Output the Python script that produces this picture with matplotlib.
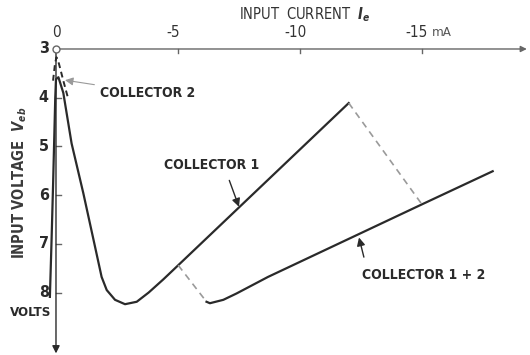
import matplotlib
matplotlib.use('Agg')
import matplotlib.pyplot as plt

plt.rcParams['font.family'] = ['DejaVu Sans']
plt.rcParams['font.stretch'] = 'condensed'
plt.rcParams['font.weight'] = 'bold'

# curves (x: input current mA, y: input voltage V)
c1_x = [0.25, 0.18, 0.12, 0.07, 0.03, 0.0, -0.1, -0.3, -0.64, -1.12, -1.57, -1.87,
        -2.08, -2.42, -2.83, -3.31, -3.8, -4.4, -5.01, -12.0]
c1_y = [8.09, 6.9, 5.8, 4.8, 4.0, 3.62, 3.58, 3.9, 4.94, 5.96, 6.99, 7.68,
        7.95, 8.15, 8.24, 8.19, 8.0, 7.73, 7.44, 4.11]
c12_x = [-6.17, -6.31, -6.86, -7.40, -8.69, -15.0, -17.9]
c12_y = [8.19, 8.22, 8.15, 8.02, 7.68, 6.19, 5.51]
c2_x = [0.12, 0.04, -0.02, -0.12, -0.3, -0.5]
c2_y = [3.65, 3.3, 3.17, 3.3, 3.65, 4.02]
join_a_x = [-5.01, -6.17]
join_a_y = [7.44, 8.19]
join_b_x = [-12.0, -15.0]
join_b_y = [4.11, 6.19]

x_ticks = [0, -5, -10, -15]
x_tick_labels = ['0', '-5', '-10', '-15']
y_ticks = [3, 4, 5, 6, 7, 8]
y_tick_labels = ['3', '4', '5', '6', '7', '8']

ink = '#2a2a2a'
grey = '#9a9a9a'

fig = plt.figure(figsize=(5.3, 3.55), dpi=100)
ax = fig.add_axes([0, 0, 1, 1])
ax.set_xlim(2.295, -19.43)
ax.set_ylim(9.283, 1.994)
ax.axis('off')

# axes drawn by hand
ax.annotate('', xy=(-19.3, 3), xytext=(0, 3),
            arrowprops=dict(arrowstyle='-|>', color='#666666', lw=1.0,
                            mutation_scale=9, shrinkA=0, shrinkB=0))
ax.annotate('', xy=(0, 9.25), xytext=(0, 3),
            arrowprops=dict(arrowstyle='-|>', color=ink, lw=1.0,
                            mutation_scale=11, shrinkA=0, shrinkB=0))
ax.plot([0], [3], 'o', ms=5, mfc='white', mec='#666666', mew=1.0, zorder=5)

for xt in x_ticks[1:]:
    ax.plot([xt, xt], [3, 3.08], color='#666666', lw=1.0)
for xt, lab in zip(x_ticks, x_tick_labels):
    shift = 0.2 if xt else 0.0
    ax.text(xt + shift, 2.67, lab, ha='center', va='center', fontsize=11,
            weight='normal', color='#333333')
ax.text(-15.4, 2.67, 'mA', ha='left', va='center', fontsize=9.5,
        weight='normal', color='#555555')

for yt in y_ticks[1:]:
    ax.plot([0, -0.22], [yt, yt], color='#666666', lw=1.0)
for yt, lab in zip(y_ticks, y_tick_labels):
    ax.text(0.3, yt, lab, ha='right', va='center', fontsize=11.5, color=ink)

ax.text(-10.2, 2.30, 'INPUT  CURRENT  $I_e$', ha='center', va='center',
        fontsize=10.5, weight='normal', color='#333333')
ax.text(1.48, 5.75, 'INPUT VOLTAGE  $V_{eb}$', ha='center', va='center',
        rotation=90, fontsize=10.5, color='#3a3a3a')
ax.text(1.02, 8.42, 'VOLTS', ha='center', va='center', fontsize=9.5, color=ink)

# curves
ax.plot(c1_x, c1_y, color=ink, lw=1.6, solid_joinstyle='round')
ax.plot(c12_x, c12_y, color=ink, lw=1.6, solid_joinstyle='round')
ax.plot(c2_x, c2_y, color=ink, lw=1.4, ls=(0, (3, 2)))
ax.plot(join_a_x, join_a_y, color=grey, lw=1.2, ls=(0, (4, 3)))
ax.plot(join_b_x, join_b_y, color=grey, lw=1.2, ls=(0, (4, 3)))

# labels with pointers
ax.annotate('COLLECTOR 2', xy=(-0.37, 3.64), xytext=(-1.8, 3.9),
            ha='left', va='center', fontsize=10, color=ink,
            arrowprops=dict(arrowstyle='-|>', color=grey, lw=0.8,
                            mutation_scale=12, shrinkA=2, shrinkB=0))
ax.annotate('COLLECTOR 1', xy=(-7.5, 6.24), xytext=(-6.36, 5.39),
            ha='center', va='center', fontsize=10, color=ink,
            arrowprops=dict(arrowstyle='-|>', color=ink, lw=1.0,
                            mutation_scale=12, shrinkA=4, shrinkB=0,
                            relpos=(0.66, 0.0)))
ax.annotate('COLLECTOR 1 + 2', xy=(-12.42, 6.87), xytext=(-12.55, 7.64),
            ha='left', va='center', fontsize=10, color=ink,
            arrowprops=dict(arrowstyle='-|>', color=ink, lw=1.0,
                            mutation_scale=12, shrinkA=6, shrinkB=0,
                            relpos=(0.05, 0.5)))

fig.savefig('out.png', dpi=100, facecolor='white')
